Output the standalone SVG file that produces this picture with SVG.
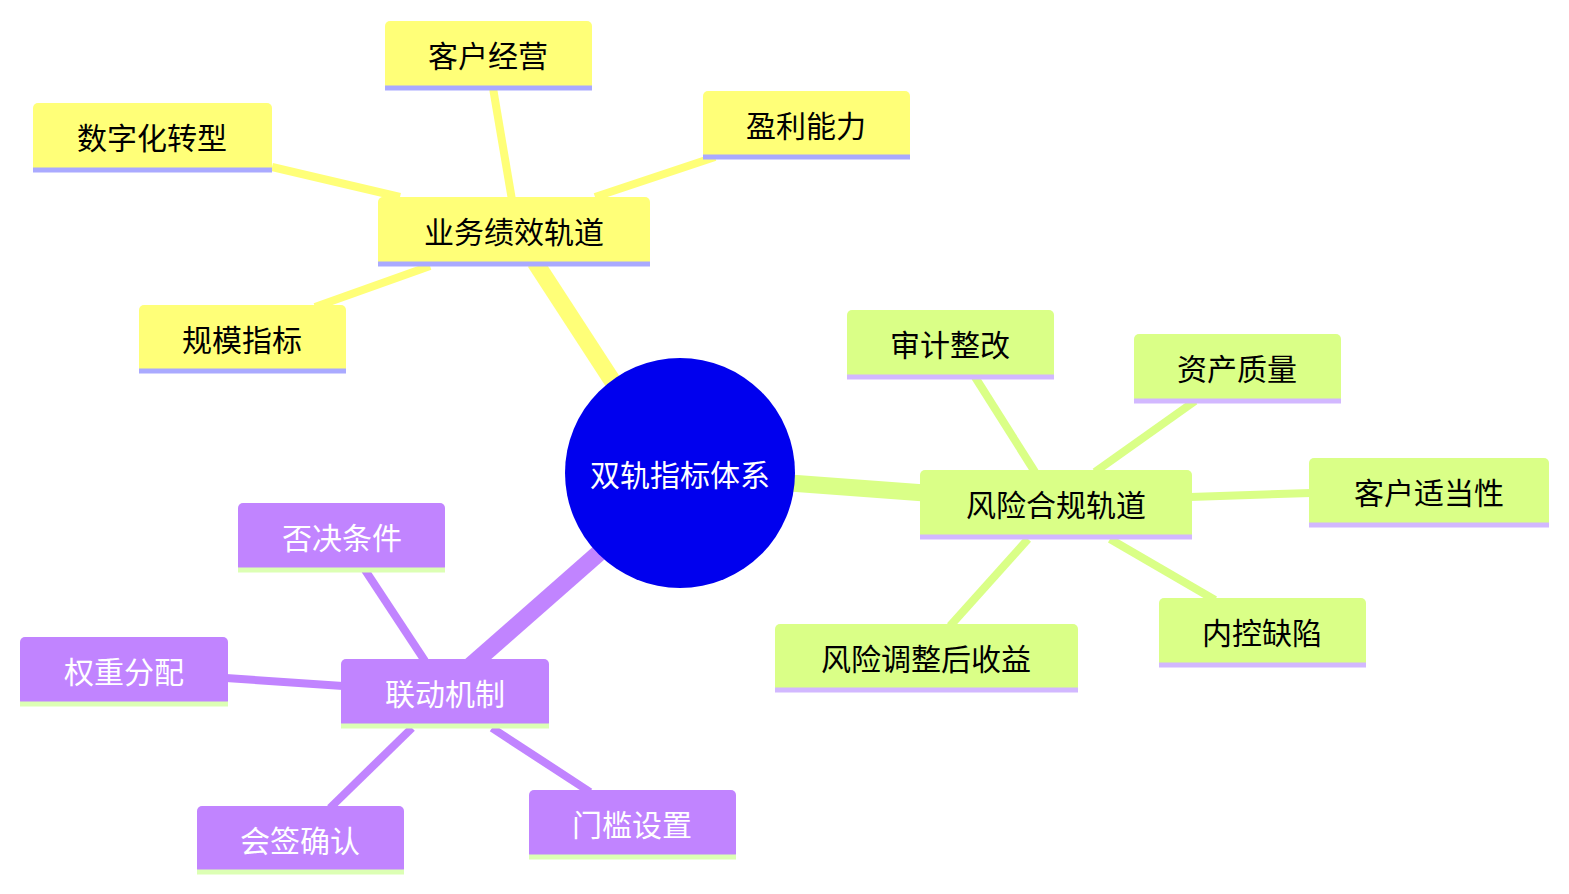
<svg xmlns="http://www.w3.org/2000/svg" width="1569" height="894" viewBox="0 0 1569 894">
<style>
text{font-family:"Noto Sans CJK SC","Liberation Sans",sans-serif;font-size:30px;text-anchor:middle;dominant-baseline:central}
.y rect{fill:#ffff78}.y line{stroke:#aaaaff}
.g rect{fill:#daff87}.g line{stroke:#d2b8ff}
.p rect{fill:#c184ff}.p line{stroke:#dcffb4}.p text{fill:#fff}
.u{stroke-width:5}
.ey{stroke:#ffff78}.eg{stroke:#daff87}.ep{stroke:#c184ff}
</style>
<rect width="1569" height="894" fill="#fff"/>
<g id="connectors" fill="none" stroke-linecap="butt">
<line class="ey" x1="615" y1="385" x2="535" y2="262" stroke-width="17"/>
<line class="eg" x1="790" y1="483" x2="925" y2="493" stroke-width="17"/>
<line class="ep" x1="600" y1="552" x2="468" y2="668" stroke-width="17"/>
<g stroke-width="8">
<line class="ey" x1="512" y1="200" x2="493" y2="88"/>
<line class="ey" x1="400" y1="197" x2="272" y2="167"/>
<line class="ey" x1="595" y1="197" x2="715" y2="157"/>
<line class="ey" x1="430" y1="266" x2="315" y2="307"/>
<line class="eg" x1="1035" y1="472" x2="975" y2="377"/>
<line class="eg" x1="1095" y1="472" x2="1195" y2="401"/>
<line class="eg" x1="1190" y1="497" x2="1311" y2="493"/>
<line class="eg" x1="1110" y1="539" x2="1215" y2="600"/>
<line class="eg" x1="1028" y1="539" x2="950" y2="626"/>
<line class="ep" x1="425" y1="661" x2="365" y2="570"/>
<line class="ep" x1="343" y1="686" x2="226" y2="678"/>
<line class="ep" x1="412" y1="728" x2="330" y2="808"/>
<line class="ep" x1="492" y1="728" x2="590" y2="792"/>
</g>
</g>
<g id="root"><circle cx="680" cy="473" r="115" fill="#0000ee"/><text x="680" y="473" fill="#fff">双轨指标体系</text></g>
<g id="n1" class="y"><rect x="378" y="197" width="272" height="69" rx="5"/><line class="u" x1="378" y1="264" x2="650" y2="264"/><text x="514" y="230">业务绩效轨道</text></g>
<g id="n1a" class="y"><rect x="385" y="21" width="207" height="69" rx="5"/><line class="u" x1="385" y1="88" x2="592" y2="88"/><text x="488" y="54">客户经营</text></g>
<g id="n1b" class="y"><rect x="33" y="103" width="239" height="69" rx="5"/><line class="u" x1="33" y1="170" x2="272" y2="170"/><text x="152" y="136">数字化转型</text></g>
<g id="n1c" class="y"><rect x="703" y="91" width="207" height="68" rx="5"/><line class="u" x1="703" y1="157" x2="910" y2="157"/><text x="806" y="124">盈利能力</text></g>
<g id="n1d" class="y"><rect x="139" y="305" width="207" height="68" rx="5"/><line class="u" x1="139" y1="371" x2="346" y2="371"/><text x="242" y="338">规模指标</text></g>
<g id="n2" class="g"><rect x="920" y="470" width="272" height="69" rx="5"/><line class="u" x1="920" y1="537" x2="1192" y2="537"/><text x="1056" y="503">风险合规轨道</text></g>
<g id="n2a" class="g"><rect x="847" y="310" width="207" height="69" rx="5"/><line class="u" x1="847" y1="377" x2="1054" y2="377"/><text x="950" y="343">审计整改</text></g>
<g id="n2b" class="g"><rect x="1134" y="334" width="207" height="69" rx="5"/><line class="u" x1="1134" y1="401" x2="1341" y2="401"/><text x="1237" y="367">资产质量</text></g>
<g id="n2c" class="g"><rect x="1309" y="458" width="240" height="69" rx="5"/><line class="u" x1="1309" y1="525" x2="1549" y2="525"/><text x="1429" y="491">客户适当性</text></g>
<g id="n2d" class="g"><rect x="1159" y="598" width="207" height="69" rx="5"/><line class="u" x1="1159" y1="665" x2="1366" y2="665"/><text x="1262" y="631">内控缺陷</text></g>
<g id="n2e" class="g"><rect x="775" y="624" width="303" height="68" rx="5"/><line class="u" x1="775" y1="690" x2="1078" y2="690"/><text x="926" y="657">风险调整后收益</text></g>
<g id="n3" class="p"><rect x="341" y="659" width="208" height="69" rx="5"/><line class="u" x1="341" y1="726" x2="549" y2="726"/><text x="445" y="692">联动机制</text></g>
<g id="n3a" class="p"><rect x="238" y="503" width="207" height="69" rx="5"/><line class="u" x1="238" y1="570" x2="445" y2="570"/><text x="342" y="536">否决条件</text></g>
<g id="n3b" class="p"><rect x="20" y="637" width="208" height="69" rx="5"/><line class="u" x1="20" y1="704" x2="228" y2="704"/><text x="124" y="670">权重分配</text></g>
<g id="n3c" class="p"><rect x="197" y="806" width="207" height="68" rx="5"/><line class="u" x1="197" y1="872" x2="404" y2="872"/><text x="300" y="839">会签确认</text></g>
<g id="n3d" class="p"><rect x="529" y="790" width="207" height="69" rx="5"/><line class="u" x1="529" y1="857" x2="736" y2="857"/><text x="632" y="823">门槛设置</text></g>
</svg>
